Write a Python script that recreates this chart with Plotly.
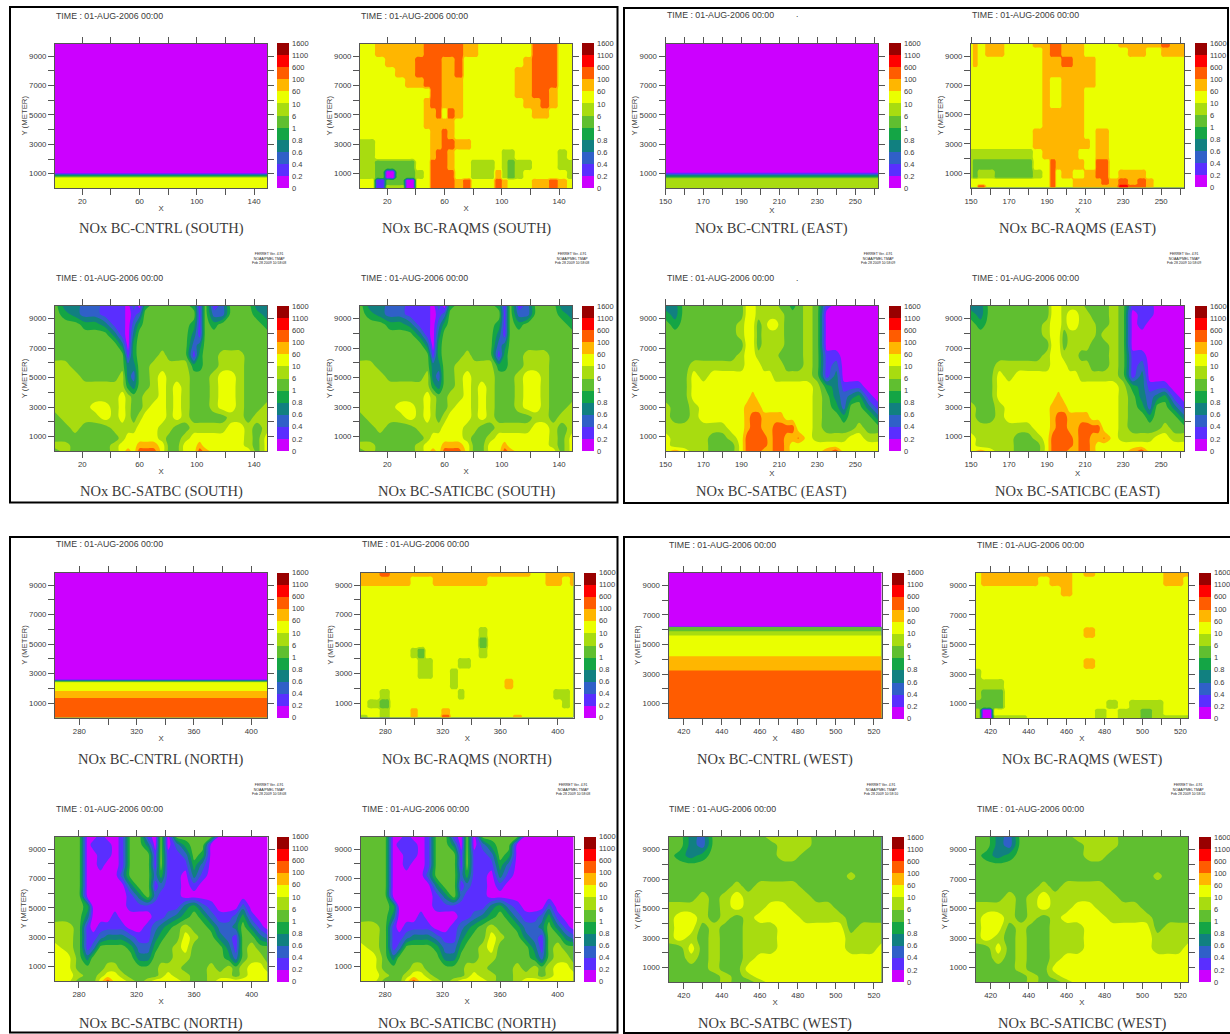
import plotly.graph_objects as go

W, H = 1230, 1034
LEVEL_LABELS = ["0","0.2","0.4","0.6","0.8","1","6","10","60","100","600","1100","1600"]
BAND_COLORS = ["#cc00ff","#5a2eff","#3060c8","#118080","#14a545","#60bf30",
               "#a8dc10","#eaff00","#ffb600","#ff5c00","#ff0000","#990000"]

Y_ROWS = [9860,9300,8600,7900,7200,6500,5800,5100,4400,3700,3000,2300,1600,900,400,30]

# band index per cell (0 = 0-0.2 ... 11 = 1100-1600), rows listed top to bottom
SOUTH_X = [1,8,15,22,29,36,43,48,52,56,60,64,70,76,81,86,92,98,102,106,112,118,124,130,136,142,149]
SOUTH_SAT = [
[5,3,3,2,2,1,1,1,0,2,0,4,5,5,5,5,5,4,1,5,1,2,5,5,5,3,3],
[5,4,3,2,2,1,1,1,0,1,2,5,5,5,5,5,5,5,1,5,2,2,5,5,5,4,3],
[5,5,5,4,4,3,1,1,0,2,4,5,5,5,5,5,5,4,1,5,4,5,5,5,5,5,4],
[5,5,5,5,5,5,3,1,0,3,5,5,5,5,5,5,5,3,1,5,5,5,5,5,5,5,5],
[5,5,5,5,5,5,5,3,0,4,5,5,5,5,5,5,5,2,3,5,5,5,5,5,5,5,5],
[5,5,5,5,5,5,5,5,1,4,5,5,5,6,5,5,5,1,4,5,5,6,6,6,5,5,5],
[6,6,5,5,5,5,5,5,3,3,5,5,6,6,6,6,6,4,4,5,5,6,6,6,5,5,5],
[6,6,6,5,5,5,5,6,3,2,5,5,6,7,6,6,6,5,5,5,6,7,7,6,5,5,5],
[6,6,6,6,6,6,6,6,4,3,5,5,6,7,6,7,6,5,5,5,6,7,7,6,5,5,5],
[6,6,6,6,6,6,6,7,6,5,5,6,6,7,6,7,6,5,5,5,6,7,7,6,5,5,5],
[6,6,6,6,7,7,6,7,6,5,5,6,7,7,6,7,6,5,5,5,6,7,7,6,5,5,6],
[5,6,6,6,6,7,6,7,6,5,6,7,7,7,6,7,6,5,5,5,5,5,6,6,5,6,6],
[5,5,6,5,5,5,6,6,6,6,7,7,7,6,6,5,5,6,6,6,6,6,7,7,6,5,6],
[5,5,5,5,5,5,5,6,7,7,7,7,7,6,5,5,6,7,7,7,7,7,7,7,6,5,7],
[6,6,5,5,5,5,6,7,7,7,8,8,8,7,5,5,7,7,8,7,7,7,7,7,6,5,7],
[5,6,5,5,5,5,6,7,8,7,9,9,9,7,5,5,7,7,9,8,7,7,7,7,7,5,7],
]
SOUTH_RAQMS = [
[7,7,8,8,8,8,8,9,9,9,9,9,9,8,8,7,7,7,7,7,7,7,9,9,9,7,7],
[7,7,8,8,8,8,8,9,9,9,9,9,9,8,8,7,7,7,7,7,7,7,9,9,9,7,7],
[7,7,7,8,8,8,9,9,9,9,8,8,9,7,7,7,7,7,7,7,7,8,9,9,9,7,7],
[7,7,7,7,8,8,9,9,9,9,8,8,9,7,7,7,7,7,7,7,8,8,9,9,9,7,7],
[7,7,7,7,7,8,8,9,9,9,8,8,8,7,7,7,7,7,7,7,8,8,9,9,9,7,7],
[7,7,7,7,7,7,7,7,9,9,8,8,8,7,7,7,7,7,7,7,8,8,9,9,8,7,7],
[7,7,7,7,7,7,7,8,9,9,8,8,8,7,7,7,7,7,7,7,7,8,8,9,8,7,7],
[7,7,7,7,7,7,7,8,8,9,7,9,8,7,7,7,7,7,7,7,7,7,8,8,7,7,7],
[7,7,7,7,7,7,7,8,8,8,8,8,7,7,7,7,7,7,7,7,7,7,7,7,7,7,7],
[7,7,7,7,7,7,7,7,8,8,9,8,7,7,7,7,7,7,7,7,7,7,7,7,7,7,7],
[6,6,7,7,7,7,7,7,8,8,9,9,8,8,7,7,7,7,7,7,7,7,7,7,7,7,7],
[6,6,7,7,7,7,7,7,8,9,9,8,7,7,7,7,7,7,6,6,7,7,7,7,7,6,7],
[6,6,5,5,5,5,7,7,9,9,9,8,7,7,6,6,6,7,6,5,6,6,7,7,7,6,6],
[6,6,5,0,5,5,6,7,9,9,9,9,7,7,6,6,6,8,6,5,6,7,7,7,7,7,6],
[7,7,1,5,5,0,7,7,9,9,9,9,8,9,7,7,7,9,8,7,7,7,8,8,9,8,7],
[7,7,1,6,6,0,7,7,9,9,9,9,8,9,7,7,7,9,8,7,7,7,8,8,9,8,7],
]
EAST_X = [150,155,160,165,170,175,180,185,190,193,196,199,202,205,208,211,214,217,220,225,230,235,240,244,248,252,257,262]
EAST_SAT_LOWER = [
[5,5,5,7,6,7,7,7,7,7,7,7,7,7,6,6,6,6,6,6,5,1,3,0,0,0,0,0],
[5,5,5,7,7,7,7,7,7,7,7,7,7,7,7,7,7,7,7,7,6,4,3,1,1,1,0,0],
[5,5,5,7,7,7,7,7,7,7,8,7,7,7,7,7,7,7,7,7,6,5,3,2,3,4,1,0],
[6,5,5,6,7,7,7,7,7,8,8,8,7,7,7,7,7,7,7,7,6,5,4,2,5,5,3,1],
[6,5,5,6,7,7,7,7,7,8,9,9,8,8,8,8,7,7,7,7,6,5,5,4,5,5,5,3],
[6,6,6,6,6,6,6,7,7,8,9,9,8,8,9,9,9,9,7,7,6,5,5,5,5,6,5,5],
[7,6,6,6,6,5,5,6,7,9,9,9,9,8,9,9,8,8,8.6,7,6,6,6,6,7,7,6,6],
[7,6,6,6,6,5,5,5,7,9,9,9,9,8,9,9,8,7,7,7,7,7,7,7,7,7,7,7],
[7,8,7,6,6,5,5,5,7,9,9,9,8,8,9,9,8,7,7,7,7,8,9,7,7,7,7,7],
]
EAST_SAT_UPPER = [
[3,3,5,5,5,5,5,5,5,7,7,6,6,6,6,5,5,4,5,6,5,1,0,0,0,0,0,0],
[4,3,5,5,5,5,5,5,5,7,7,6,6,6,6,6,5,5,5,6,5,0,0,0,0,0,0,0],
[5,4,5,5,5,5,5,5,6,7,7,5,6,7,7,6,5,5,5,6,5,0,0,0,0,0,0,0],
[5,5,5,5,5,5,5,5,6,7,7,5,6,6,6,6,5,5,5,6,5,0,0,0,0,0,0,0],
[5,5,5,5,5,5,5,5,5,7,7,5,6,6,6,6,5,5,5,6,5,0,0,0,0,0,0,0],
[5,5,5,5,5,5,5,5,6,7,7,6,6,6,6,5,5,5,5,6,5,1,1,0,0,0,0,0],
[5,5,5,6,6,6,6,6,6,7,7,7,6,6,6,6,5,5,5,6,5,1,2,0,0,0,0,0],
]
EAST_SATIC_UPPER = [
[3,3,5,5,5,5,5,5,5,7,7,6,6,6,6,5,5,5,5,6,5,1,1,1,0,0,0,0],
[4,3,5,5,5,5,5,5,5,7,7,6,7,7,6,6,5,5,5,6,5,0,1,1,0,0,0,0],
[5,4,5,5,5,5,5,5,6,7,7,6,7,7,6,6,6,5,5,6,5,0,1,0,0,0,0,0],
[5,5,5,5,5,5,5,5,6,7,7,5,6,6,6,6,6,5,6,6,5,0,0,0,0,0,0,0],
[5,5,5,5,5,5,5,5,5,7,7,5,6,6,6,6,5,5,5,6,5,0,0,0,0,0,0,0],
[5,5,5,5,5,5,5,5,6,7,7,6,6,6,5,5,5,5,5,6,5,1,1,0,0,0,0,0],
[5,5,5,6,6,6,6,6,6,7,7,7,6,6,6,6,5,5,5,6,5,1,2,0,0,0,0,0],
]
EAST_RAQMS_X = [150,152,155,160,165,170,175,180,185,190,193,196,199,202,205,208,211,214,217,220,225,230,235,240,244,248,252,257,262]
EAST_RAQMS = [
[7,8,7,8,8,7,7,7,8,8,9,9,8,8,8,8,7,7,7,7,7,8,8,8,8,8,9,8,8],
[7,8,7,8,8,7,7,7,7,8,9,9,8,8,8,8,7,7,7,7,7,7,8,8,7,7,8,8,8],
[7,8,7,7,7,7,7,7,7,8,8,8,9,9,8,8,8,8,7,7,7,7,7,7,7,7,7,7,7],
[7,7,7,7,7,7,7,7,7,8,8,8,8,8,8,8,8,8,7,7,7,7,7,7,7,7,7,7,7],
[7,7,7,7,7,7,7,7,7,8,7,7,8,8,8,8,8,8,7,7,7,7,7,7,7,7,7,7,7],
[7,7,7,7,7,7,7,7,7,8,7,7,8,8,8,8,7,7,7,7,7,7,7,7,7,7,7,7,7],
[7,7,7,7,7,7,7,7,7,8,7,7,8,8,8,8,7,7,7,7,7,7,7,7,7,7,7,7,7],
[7,7,7,7,7,7,7,7,7,8,8,8,8,8,8,8,7,7,7,7,7,7,7,7,7,7,7,7,7],
[7,7,7,7,7,7,7,7,7,8,8,8,8,8,8,8,7,7,7,7,7,7,7,7,7,7,7,7,7],
[7,7,7,7,7,7,7,7,8,8,8,8,8,8,8,8,7,7,8,8,7,7,7,7,7,7,7,7,7],
[7,7,7,7,7,7,7,7,8,8,8,8,8,8,8,8,8,7,8,8,7,7,7,7,7,7,7,7,7],
[6,6,6,6,6,6,6,6,7,8,8,8,8,8,8,7,7,7,8,8,7,7,7,7,7,7,7,7,7],
[6,5,5,5,5,5,5,5,7,7,9,8,8,8,8,8,7,7,9,9,7,7,7,7,7,7,7,7,7],
[6,5,6,6,5,5,5,5,6,7,9,7,8,8,7,7,8,8,9,9,7,8,8,8,7,7,7,7,7],
[7,7,7,7,7,7,7,7,7,7,9,7,7,7,8,8,8,8,8,9,8,9,8,9,8,7,7,7,7],
[7,7,9,7,7,7,7,7,7,7,9,7,7,7,8,8,8,8,8,8,8,10,9,9,8,7,7,7,7],
]
NORTH_X = [263,272,280,286,290,295,300,305,310,316,322,328,333,337,342,348,354,360,366,372,378,384,389,394,400,406,411]
NORTH_SAT = [
[5,5,5,0,0,1,0,0,1,5,5,1,0,5,0,5,5,5,5,5,0,0,0,0,0,0,0],
[5,5,5,0,1,1,1,0,1,5,5,3,0,5,0,2,4,5,5,0,0,0,0,0,0,0,0],
[5,5,5,0,0,1,1,0,1,5,5,5,1,5,1,1,2,5,4,0,0,0,0,0,0,0,0],
[5,5,5,0,0,1,0,0,1,5,5,5,1,5,1,1,1,4,2,0,0,0,0,0,0,0,0],
[5,5,5,0,0,0,0,0,2,5,5,5,2,4,1,1,0,3,1,0,0,0,0,0,0,0,0],
[5,5,5,0,0,0,0,0,0,3,5,5,1,2,1,1,0,1,0,0,0,0,0,0,0,0,0],
[5,5,5,0,0,0,0,0,0,1,3,5,2,1,1,1,0,0,0,0,0,0,0,0,0,0,0],
[5,5,5,4,0,0,0,0,0,1,1,1,1,1,1,1,3,4,2,1,0,0,0,2,0,0,0],
[5,5,5,3,0,0,0,1,0,0,0,0,1,1,2,3,4,5,4,2,1,1,2,4,1,0,0],
[6,6,5,1,0,1,1,1,1,0,0,1,2,3,4,5,6,5,5,4,2,2,3,5,3,1,0],
[6,6,5,1,1,2,3,3,3,2,1,1,3,4,5,5,7,6,5,5,3,2,1,5,5,3,2],
[7,6,5,1,2,5,5,5,5,4,2,2,4,5,5,6,7,5,5,5,5,3,1,5,6,5,5],
[7,7,5,3,5,5,5,5,5,5,3,3,5,5,5,6,6,5,5,5,5,4,2,5,6,6,5],
[7,7,5,5,5,5,6,6,5,5,5,5,5,6,6,6,5,5,5,6,5,6,5,6,7,7,6],
[7,7,6,5,5,6,7,7,6,5,5,5,5,6,7,6,6,5,5,6,6,6,5,6,7,7,7],
[7,7,5,5,5,7,9,7,7,6,5,6,7,7,7,7,6,5,5,6,7,7,7,7,7,7,7],
]
NORTH_RAQMS = [
[8,8,9,8,8,8,8,8,8,8,8,8,8,8,8,8,8,8,8,8,8,7,7,8,8,8,8],
[8,8,8,8,8,8,7,7,7,8,8,8,8,8,8,8,7,7,7,7,7,7,7,8,8,7,8],
[7,7,7,7,7,7,7,7,7,7,7,7,7,7,7,7,7,7,7,7,7,7,7,7,7,7,7],
[7,7,7,7,7,7,7,7,7,7,7,7,7,7,7,7,7,7,7,7,7,7,7,7,7,7,7],
[7,7,7,7,7,7,7,7,7,7,7,7,7,7,7,7,7,7,7,7,7,7,7,7,7,7,7],
[7,7,7,7,7,7,7,7,7,7,7,7,7,7,7,7,7,7,7,7,7,7,7,7,7,7,7],
[7,7,7,7,7,7,7,7,7,7,7,7,7,7,7,6,7,7,7,7,7,7,7,7,7,7,7],
[7,7,7,7,7,7,7,7,7,7,7,7,7,7,7,5,7,7,7,7,7,7,7,7,7,7,7],
[7,7,7,7,7,7,6,5,7,7,7,7,7,7,7,6,7,7,7,7,7,7,7,7,7,7,7],
[7,7,7,7,7,7,7,6,6,7,7,7,6,6,7,7,7,7,7,7,7,7,7,7,7,7,7],
[7,7,7,7,7,7,7,6,6,7,7,6,7,7,7,7,7,7,7,7,7,7,7,7,7,7,7],
[7,7,7,7,7,7,7,7,7,7,7,6,7,7,7,7,7,7,8,7,7,7,7,7,7,7,7],
[7,7,6,7,7,7,7,7,7,7,7,7,6,7,7,7,7,7,7,7,7,7,7,7,6,6,7],
[7,6,5,7,7,7,7,7,7,7,7,7,7,7,7,7,7,7,7,7,7,7,7,7,7,6,7],
[7,7,6,7,7,7,8,7,7,7,8,7,7,7,7,7,7,7,7,7,7,7,7,7,7,7,7],
[6,7,6,7,7,7,8,7,7,7,9,7,7,7,7,7,7,7,7,8,7,7,7,7,7,7,7],
]
WEST_X = [412,418,424,430,436,442,448,454,460,466,472,478,484,490,496,502,508,514,519,524]
WEST_SAT = [
[5,5,3,2,5,5,5,5,5,6,6,6,6,5,5,5,5,5,5,5],
[5,5,3,2,5,5,5,5,5,5,6,6,6,5,5,5,5,5,5,5],
[5,4,3,4,5,5,5,5,5,5,6,6,5,5,5,5,5,5,5,5],
[5,5,5,5,5,5,5,5,5,5,5,5,5,5,5,5,5,5,5,5],
[5,5,5,5,5,5,5,5,5,5,5,5,5,5,5,5,5.8,5,5,5],
[5,5,5,5,5,5,6,5,6,6,6,6,5,5,5,5,5,5,5,5],
[5,5,5,6,5,6,7,6,6,6,6,6,6,5,5,5,5,5,5,5],
[6,6,6,6,5,6,7,6,6,7,7,6,6,6,6,5,5,5,5,5],
[6,7,7,6,5,6,5,6,7,7,7,7,6,6,6,6,5,5,5,5],
[6,7,7,5,6,5,5,6,6,6,7,7,7,7,7,7,5,6,6,6],
[6,7,6,5,6,5,5,6,6,6,7,7,7,7,7,7,6,6,6,6],
[5,5,7,5,6,5,5,6,6,6,7,7,7,7,7,7,6,6,6,7],
[5,5,6,5,6,5,5,6,7,7,7,7,7,7,7,7,7,7,7,7],
[5,5,5,5,6,5,5,7,7,7,7,7,7,7,7,7,7,7,7,7],
[5,5,5,5,5,6,5,6,7,7,7,7,7,7,7,7,7,7,7,7],
[5,5,5,5,5,6,5,5,6,7,7,7,7,7,7,7,7,7,7,7],
]
WEST_RAQMS = [
[7,8,8,8,8,8,8,8,8,7,8,7,7,7,7,7,7,8,8,8],
[7,8,8,8,8,8,7,8,8,7,7,7,7,7,7,7,7,8,8,7],
[7,7,7,7,7,7,7,7,8,7,7,7,7,7,7,7,7,7,7,7],
[7,7,7,7,7,7,7,7,7,7,7,7,7,7,7,7,7,7,7,7],
[7,7,7,7,7,7,7,7,7,7,7,7,7,7,7,7,7,7,7,7],
[7,7,7,7,7,7,7,7,7,7,7,7,7,7,7,7,7,7,7,7],
[7,7,7,7,7,7,7,7,7,7,8,7,7,7,7,7,7,7,7,7],
[7,7,7,7,7,7,7,7,7,7,7,7,7,7,7,7,7,7,7,7],
[7,7,7,7,7,7,7,7,7,7,7,7,7,7,7,7,7,7,7,7],
[7,7,7,7,7,7,7,7,7,7,8,7,7,7,7,7,7,7,7,7],
[6,7,7,7,7,7,7,7,7,7,7,7,7,7,7,7,7,7,7,7],
[6,6,6,7,7,7,7,7,7,7,7,7,7,7,7,7,7,7,7,7],
[6,5,5,7,7,7,7,7,7,7,7,7,7,7,7,7,7,7,7,7],
[5,5,5,7,7,7,7,7,7,7,7,7,6,7,6,6,6,7,7,7],
[6,0,7,7,7,7,7,7,7,7,7,6,7,6,6,5,6,7,7,7],
[6,0,6,6,6,7,7,7,7,7,7,6,7,6,6,5,6,6,6,6],
]
# CNTRL boundary profiles: height and band index, the same at every X
SOUTH_CNTRL_Y = [30,700,1060,9860]
SOUTH_CNTRL_V = [7,7,0,0]
EAST_CNTRL_Y = [30,650,1100,9860]
EAST_CNTRL_V = [6,6,0,0]
NORTH_CNTRL_Y = [30,1350,1355,1830,1835,2400,2620,9860]
NORTH_CNTRL_V = [9,9,8,8,7,7,0,0]
WEST_CNTRL_Y = [30,3230,3240,4200,4210,5600,5610,5890,5900,6170,6200,9860]
WEST_CNTRL_V = [9,9,8,8,7,7,6,6,5,5,0,0]

YLIM = [30, 9860]
Y_TICKS = list(range(1000, 10000, 1000))
SERIES = {
    "SOUTH": dict(xlim=[1,149], ticks=list(range(20,149,20)), shown=[20,60,100,140],
                  stamp="FERRET Ver. 4.91<br>NOAA/PMEL TMAP<br>Feb 28 2009 10:58:08"),
    "EAST": dict(xlim=[150,262], ticks=list(range(150,262,10)), shown=[150,170,190,210,230,250],
                 stamp="FERRET Ver. 4.91<br>NOAA/PMEL TMAP<br>Feb 28 2009 10:58:09"),
    "NORTH": dict(xlim=[263,411], ticks=list(range(280,411,20)), shown=[280,320,360,400],
                  stamp="FERRET Ver. 4.91<br>NOAA/PMEL TMAP<br>Feb 28 2009 10:58:08"),
    "WEST": dict(xlim=[412,524], ticks=list(range(420,524,10)), shown=[420,440,460,480,500,520],
                 stamp="FERRET Ver. 4.91<br>NOAA/PMEL TMAP<br>Feb 28 2009 10:58:10"),
}

def flat(y_vals, v_vals, xlim):
    return xlim, y_vals, [[v, v] for v in v_vals]

DATA = {
    ("SOUTH","CNTRL"): flat(SOUTH_CNTRL_Y, SOUTH_CNTRL_V, [1,149]),
    ("SOUTH","RAQMS"): (SOUTH_X, Y_ROWS, SOUTH_RAQMS),
    ("SOUTH","SATBC"): (SOUTH_X, Y_ROWS, SOUTH_SAT),
    ("SOUTH","SATICBC"): (SOUTH_X, Y_ROWS, SOUTH_SAT),
    ("EAST","CNTRL"): flat(EAST_CNTRL_Y, EAST_CNTRL_V, [150,262]),
    ("EAST","RAQMS"): (EAST_RAQMS_X, Y_ROWS, EAST_RAQMS),
    ("EAST","SATBC"): (EAST_X, Y_ROWS, EAST_SAT_UPPER + EAST_SAT_LOWER),
    ("EAST","SATICBC"): (EAST_X, Y_ROWS, EAST_SATIC_UPPER + EAST_SAT_LOWER),
    ("NORTH","CNTRL"): flat(NORTH_CNTRL_Y, NORTH_CNTRL_V, [263,411]),
    ("NORTH","RAQMS"): (NORTH_X, Y_ROWS, NORTH_RAQMS),
    ("NORTH","SATBC"): (NORTH_X, Y_ROWS, NORTH_SAT),
    ("NORTH","SATICBC"): (NORTH_X, Y_ROWS, NORTH_SAT),
    ("WEST","CNTRL"): flat(WEST_CNTRL_Y, WEST_CNTRL_V, [412,524]),
    ("WEST","RAQMS"): (WEST_X, Y_ROWS, WEST_RAQMS),
    ("WEST","SATBC"): (WEST_X, Y_ROWS, WEST_SAT),
    ("WEST","SATICBC"): (WEST_X, Y_ROWS, WEST_SAT),
}
# how much of each grid interval the colour transition occupies (None: plain grid)
SHARPNESS = {"CNTRL": None, "RAQMS": 0.35, "SATBC": None, "SATICBC": None}

# region, run, plot left/right/top/bottom, colourbar left, TIME (x,y), title (x,y), stamp (x,y)
PANELS = [
 ("SOUTH","CNTRL",55,267,43.5,188,277,(55,16),(161,228),(269,258)),
 ("SOUTH","RAQMS",360,572,43.5,188,582,(360,16),(466,228),(572,258)),
 ("SOUTH","SATBC",55,267,306,451,277,(55,278),(161,492),None),
 ("SOUTH","SATICBC",360,572,306,451,582,(360,278),(466,492),None),
 ("EAST","CNTRL",665.5,878,43.5,188,889,(666,15),(771,228),(878,258)),
 ("EAST","RAQMS",971,1184,43.5,187.5,1195,(971,15),(1077,228),(1184,258)),
 ("EAST","SATBC",665.5,878,306,451,889,(666,278),(771,492),None),
 ("EAST","SATICBC",971,1184,306,451,1195,(971,278),(1077,492),None),
 ("NORTH","CNTRL",55,267,572.5,717.5,277,(55,544),(161,759),(269,789)),
 ("NORTH","RAQMS",361,573.5,572.5,717.5,584,(361,544),(467,759),(573,789)),
 ("NORTH","SATBC",54.5,267.5,836.5,981,277,(55,809),(161,1023),None),
 ("NORTH","SATICBC",360.5,573.5,836.5,981,584,(361,809),(467,1023),None),
 ("WEST","CNTRL",668.5,881.5,572.5,718,892,(668,545),(775,759),(881,789)),
 ("WEST","RAQMS",975.5,1188,572.5,718,1199,(976,545),(1082,759),(1188,789)),
 ("WEST","SATBC",668.5,881.5,837,982,892,(668,809),(775,1023),None),
 ("WEST","SATICBC",975.5,1188,837,982,1199,(976,809),(1082,1023),None),
]
FRAMES = [(10,7,617.5,502.5),(624,8,1228,503),(10,537,617.5,1032.5),(624,537,1240,1033)]

INK = "#3a3a3a"
SANS = "Liberation Sans"
SERIF = "Liberation Serif"
AXIS_FONT = dict(size=7.8, family=SANS, color=INK)
BAR_FONT = dict(size=7.5, family=SANS, color=INK)

stepped = []
for i, c in enumerate(BAND_COLORS):
    stepped += [[i/12, c], [(i+1)/12, c]]

def nodes(vals, s):
    """Axis nodes and, for each, the source index it copies: transition limited to a share s of each interval."""
    out, idx = [vals[0]], [0]
    for i in range(len(vals) - 1):
        a, b = vals[i], vals[i+1]
        lo, hi = a + (b-a)*(0.5 - s/2), a + (b-a)*(0.5 + s/2)
        out += [lo, hi, b]
        idx += [i, i+1, i+1]
    return out, idx

fig = go.Figure()
layout = dict(width=W, height=H, autosize=False, margin=dict(l=0,r=0,t=0,b=0,pad=0,autoexpand=False),
              paper_bgcolor="white", plot_bgcolor="white", showlegend=False)
annots = []
def note(text, x, y, size=8.5, family=SANS, anchor="left", color=INK):
    annots.append(dict(text=text, x=x/W, y=1-y/H, xref="paper", yref="paper", showarrow=False,
                       xanchor=anchor, yanchor="middle", align="center",
                       font=dict(size=size, family=family, color=color), borderpad=0))

for n, (region, run, x0, x1, y0, y1, cbx, tpos, lpos, spos) in enumerate(PANELS, start=1):
    xs, ys, rows = DATA[(region, run)]
    info = SERIES[region]
    pairs = sorted(zip(ys, rows), key=lambda p: p[0])
    yv = [p[0] for p in pairs]
    grid = [(list(r) + [r[-1]] * (len(xs) - len(r)))[:len(xs)] for _, r in pairs]
    s = SHARPNESS[run]
    if s is None:
        xn, yn, z = xs, yv, [[v + 0.5 for v in r] for r in grid]
    else:
        xn, xi = nodes(list(xs), s)
        yn, yi = nodes(yv, s)
        z = [[grid[j][i] + 0.5 for i in xi] for j in yi]
    fig.add_trace(go.Contour(
        x=xn, y=yn, z=z, xaxis=f"x{n}", yaxis=f"y{n}",
        zmin=0, zmax=12, autocontour=False, colorscale=stepped,
        contours=dict(start=0, end=12, size=1, coloring="fill", showlines=False),
        line=dict(width=0), hoverinfo="skip",
        colorbar=dict(x=cbx/W, xanchor="left", y=1-y0/H, yanchor="top", lenmode="pixels", len=y1-y0,
                      thicknessmode="pixels", thickness=11.5, xpad=0, ypad=0, outlinewidth=0,
                      tickmode="array", tickvals=list(range(13)), ticktext=LEVEL_LABELS,
                      ticks="outside", ticklen=2, tickcolor="rgba(0,0,0,0)", tickfont=BAR_FONT)))
    layout[f"xaxis{n}"] = dict(domain=[x0/W, x1/W], range=info["xlim"], anchor=f"y{n}",
        tickmode="array", tickvals=info["ticks"],
        ticktext=[str(t) if t in info["shown"] else "" for t in info["ticks"]],
        ticks="outside", ticklen=6, tickcolor="#555", showline=True, linecolor="#555", linewidth=1,
        mirror="ticks", showgrid=False, zeroline=False, tickfont=AXIS_FONT,
        title=dict(text="X", font=AXIS_FONT, standoff=0))
    layout[f"yaxis{n}"] = dict(domain=[1-y1/H, 1-y0/H], range=YLIM, anchor=f"x{n}",
        tickmode="array", tickvals=Y_TICKS,
        ticktext=[str(t) if t % 2000 == 1000 else "" for t in Y_TICKS],
        ticks="outside", ticklen=6, tickcolor="#555", showline=True, linecolor="#555", linewidth=1,
        mirror="ticks", showgrid=False, zeroline=False, tickfont=AXIS_FONT,
        title=dict(text="Y (METER)", font=AXIS_FONT, standoff=0))
    note("TIME : 01-AUG-2006 00:00", tpos[0], tpos[1], size=8.8)
    note(f"NOx BC-{run} ({region})", lpos[0], lpos[1], size=14.5, family=SERIF, anchor="center")
    if spos:
        note(info["stamp"], spos[0], spos[1], size=3.5, anchor="center", color="#222")

note(".", 795, 14)
note(".", 795, 278)

layout["annotations"] = annots
layout["shapes"] = [dict(type="rect", xref="paper", yref="paper", x0=a/W, x1=c/W, y0=1-b/H, y1=1-d/H,
                         line=dict(color="#000", width=2), fillcolor="rgba(0,0,0,0)", layer="above")
                    for a, b, c, d in FRAMES]
fig.update_layout(**layout)
fig.write_html("out.html", config={"displayModeBar": False},
               post_script="document.body.style.margin='0';document.documentElement.style.overflow='hidden';document.body.style.overflow='hidden';")
